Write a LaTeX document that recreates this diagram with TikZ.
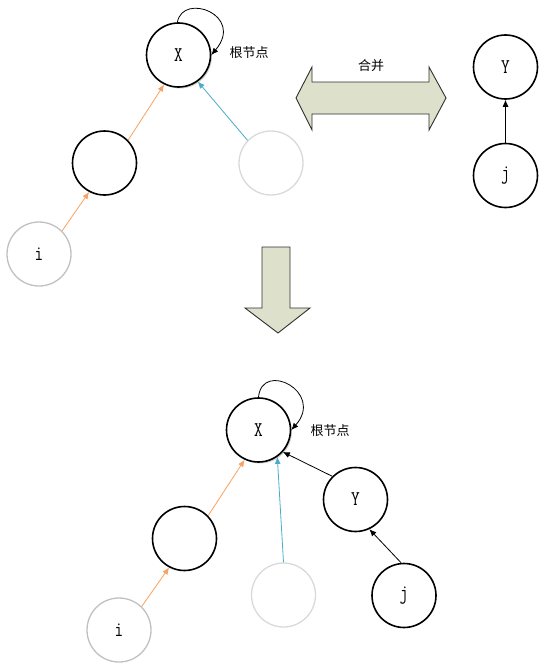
\documentclass[tikz,border=0pt]{standalone}
\usepackage{fontspec}
\newfontfamily\cjk{Noto Sans CJK SC}
\newfontfamily\nodefont[FakeStretch=0.8]{Latin Modern Mono}
\usetikzlibrary{arrows.meta,shadows}
\definecolor{orng}{HTML}{F8A160}
\definecolor{blu}{HTML}{4BACC6}
\definecolor{lgray}{HTML}{C0C0C0}
\definecolor{llgray}{HTML}{D9D9D9}
\definecolor{bigfill}{HTML}{DDE0CB}
\definecolor{bigline}{HTML}{303030}
\tikzset{
  nd/.style={circle,minimum size=64pt,inner sep=0pt,line width=1.6pt,draw=black,font=\nodefont\fontsize{21}{23}\selectfont},
  rootnd/.style={nd,fill=white,drop shadow={opacity=0.35,shadow xshift=1.5pt,shadow yshift=-1.5pt}},
  gnd/.style={nd,line width=1.3pt,draw=lgray},
  ggnd/.style={nd,line width=1.3pt,draw=llgray},
  arr/.style={-{Latex[length=7pt,width=6pt]},line width=0.8pt},
  oarr/.style={arr,draw=orng,-{Latex[length=7pt,width=6pt,fill=orng]}},
  barr/.style={arr,draw=blu},
  karr/.style={arr,draw=black},
  lbl/.style={font=\cjk\fontsize{13}{15}\selectfont,inner sep=0pt},
  bigarrow/.style={fill=bigfill,draw=bigline,line width=0.9pt,line join=miter}
}
\begin{document}
\begin{tikzpicture}[x=1pt,y=-1pt]
\useasboundingbox (0,0) rectangle (549,669);
% ---------- top ----------
\node[rootnd] (X1) at (178.5,55) {X};
\node[nd] (M1) at (104.5,163) {};
\node[gnd] (I1) at (39,254) {i};
\node[ggnd] (G1) at (271,163) {};
\node[nd] (Y1) at (505.5,67) {Y};
\node[nd] (J1) at (505.5,175.5) {j};
\node[lbl] (R1) at (249,53) {根节点};
\draw[karr] (X1.92) .. controls (183,-8) and (245,15) .. (X1.0);
\draw[oarr] (I1.45) -- (M1.-118);
\draw[oarr] (M1.44) -- (X1.-116);
\draw[barr] (G1.136) -- (X1.-54);
\draw[karr] (J1.north) -- (Y1.south);
% double arrow
\draw[bigarrow] (296,98) -- (312,67) -- (312,82) -- (429,82) -- (429,67) -- (446,98)
  -- (429,130) -- (429,114) -- (312,114) -- (312,130) -- cycle;
\node[lbl] (M) at (371,66) {合并};
% down arrow
\draw[bigarrow] (262,247) -- (290,247) -- (290,308) -- (310,308) -- (278,333)
  -- (245,308) -- (262,308) -- cycle;
% ---------- bottom ----------
\node[rootnd] (X2) at (258.5,430) {X};
\node[nd] (M2) at (184.5,538.5) {};
\node[gnd] (I2) at (119,630) {i};
\node[ggnd] (G2) at (283.5,595) {};
\node[nd] (Y2) at (355.5,499.5) {Y};
\node[nd] (J2) at (404,595.5) {j};
\node[lbl] (R2) at (330,431) {根节点};
\draw[karr] (X2.90) .. controls (262,360) and (325,392) .. (X2.0);
\draw[oarr] (I2.46) -- (M2.-118);
\draw[oarr] (M2.44) -- (X2.-115);
\draw[barr] (G2.north) -- (X2.-55);
\draw[karr] (Y2.135) -- (X2.-42);
\draw[karr] (J2.95) -- (Y2.-65);
\end{tikzpicture}
\end{document}
